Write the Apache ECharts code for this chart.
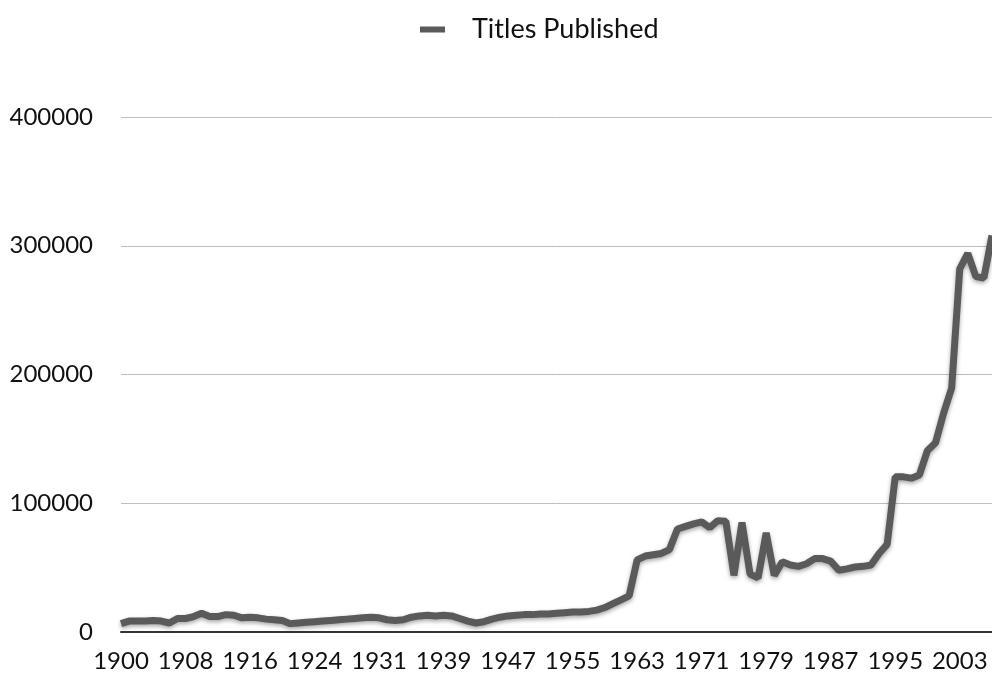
<!DOCTYPE html>
<html>
<head>
<meta charset="utf-8">
<script src="https://cdn.jsdelivr.net/npm/echarts@6/dist/echarts.min.js"></script>
<style>
html,body{margin:0;padding:0;background:#fff;}
#chart{width:992px;height:675px;}
</style>
</head>
<body>
<div id="chart"></div>
<script>
var seriesName = 'Titles Published';
var years = [
 '1900','1901','1902','1903','1904','1905','1906','1907','1908','1909',
 '1910','1911','1912','1913','1914','1915','1916','1917','1918','1919',
 '1920','1921','1922','1923','1924','1925','1926','1927','1928','1928',
 '1929','1930','1931','1932','1933','1934','1935','1936','1937','1938',
 '1939','1940','1941','1942','1943','1944','1945','1946','1947','1948',
 '1949','1950','1951','1952','1953','1954','1955','1956','1957','1958',
 '1959','1960','1961','1962','1963','1964','1965','1966','1967','1968',
 '1969','1970','1971','1972','1973','1974','1975','1976','1977','1978',
 '1979','1980','1981','1982','1983','1984','1985','1986','1987','1988',
 '1989','1990','1991','1992','1993','1994','1995','1996','1997','1998',
 '1999','2000','2001','2002','2003','2004','2005','2006','2007'
];
var titles = [
 6500, 8500, 8500, 8500, 9000, 8500, 7000, 10500, 10500, 12000,
 14500, 12000, 12000, 13500, 13000, 11000, 11500, 11000, 10000, 9500,
 9000, 6500, 7000, 7500, 8000, 8500, 9000, 9500, 10000, 10500,
 11000, 11500, 11000, 9500, 9000, 9500, 11500, 12500, 13000, 12500,
 13000, 12500, 10500, 8500, 7000, 8000, 10000, 11500, 12500, 13000,
 13500, 13500, 14000, 14000, 14500, 15000, 15500, 15500, 16000, 17000,
 19000, 22000, 25000, 28000, 56000, 59000, 60000, 61000, 64000, 80000,
 82000, 84000, 85500, 81000, 86500, 86000, 44000, 85000, 45000, 42000,
 77000, 44000, 54500, 52000, 51000, 53000, 57000, 57000, 55000, 48000,
 49000, 50500, 51000, 52000, 61000, 68000, 120500, 120500, 119500, 122000,
 141000, 147000, 170000, 189500, 282000, 294000, 276000, 275000, 308000
];
var yMin = 0, yMax = 400000, yStep = 100000;

var chart = echarts.init(document.getElementById('chart'), null, {renderer: 'canvas'});
var font = 'Lato, "Open Sans", sans-serif';
chart.setOption({
  animation: false,
  legend: {
    top: 11,
    left: 415,
    icon: 'rect',
    itemWidth: 25,
    itemHeight: 6,
    data: [seriesName],
    textStyle: {fontFamily: font, fontSize: 27, color: '#111', padding: [0, 0, 0, 22]}
  },
  grid: {left: 121, right: 0, top: 117, bottom: 43, containLabel: false},
  xAxis: {
    type: 'category',
    data: years,
    boundaryGap: false,
    axisLine: {lineStyle: {color: '#333', width: 2}},
    axisTick: {show: false},
    axisLabel: {
      interval: function (idx) { return idx % 8 === 0; },
      margin: 17, hideOverlap: false, fontFamily: font, fontSize: 24, color: '#111'
    }
  },
  yAxis: {
    type: 'value',
    min: yMin, max: yMax, interval: yStep,
    axisLine: {show: false},
    axisTick: {show: false},
    splitLine: {lineStyle: {color: '#bdbdbd', width: 1}},
    axisLabel: {margin: 28, fontFamily: font, fontSize: 24, color: '#111', formatter: function (v) { return String(v); }}
  },
  series: [{
    name: seriesName,
    type: 'line',
    data: titles,
    symbol: 'none',
    color: '#5a5a5a',
    lineStyle: {color: '#5a5a5a', width: 7, shadowBlur: 4, shadowColor: 'rgba(0,0,0,0.35)', shadowOffsetY: 2},
    clip: false
  }]
});
</script>
</body>
</html>
